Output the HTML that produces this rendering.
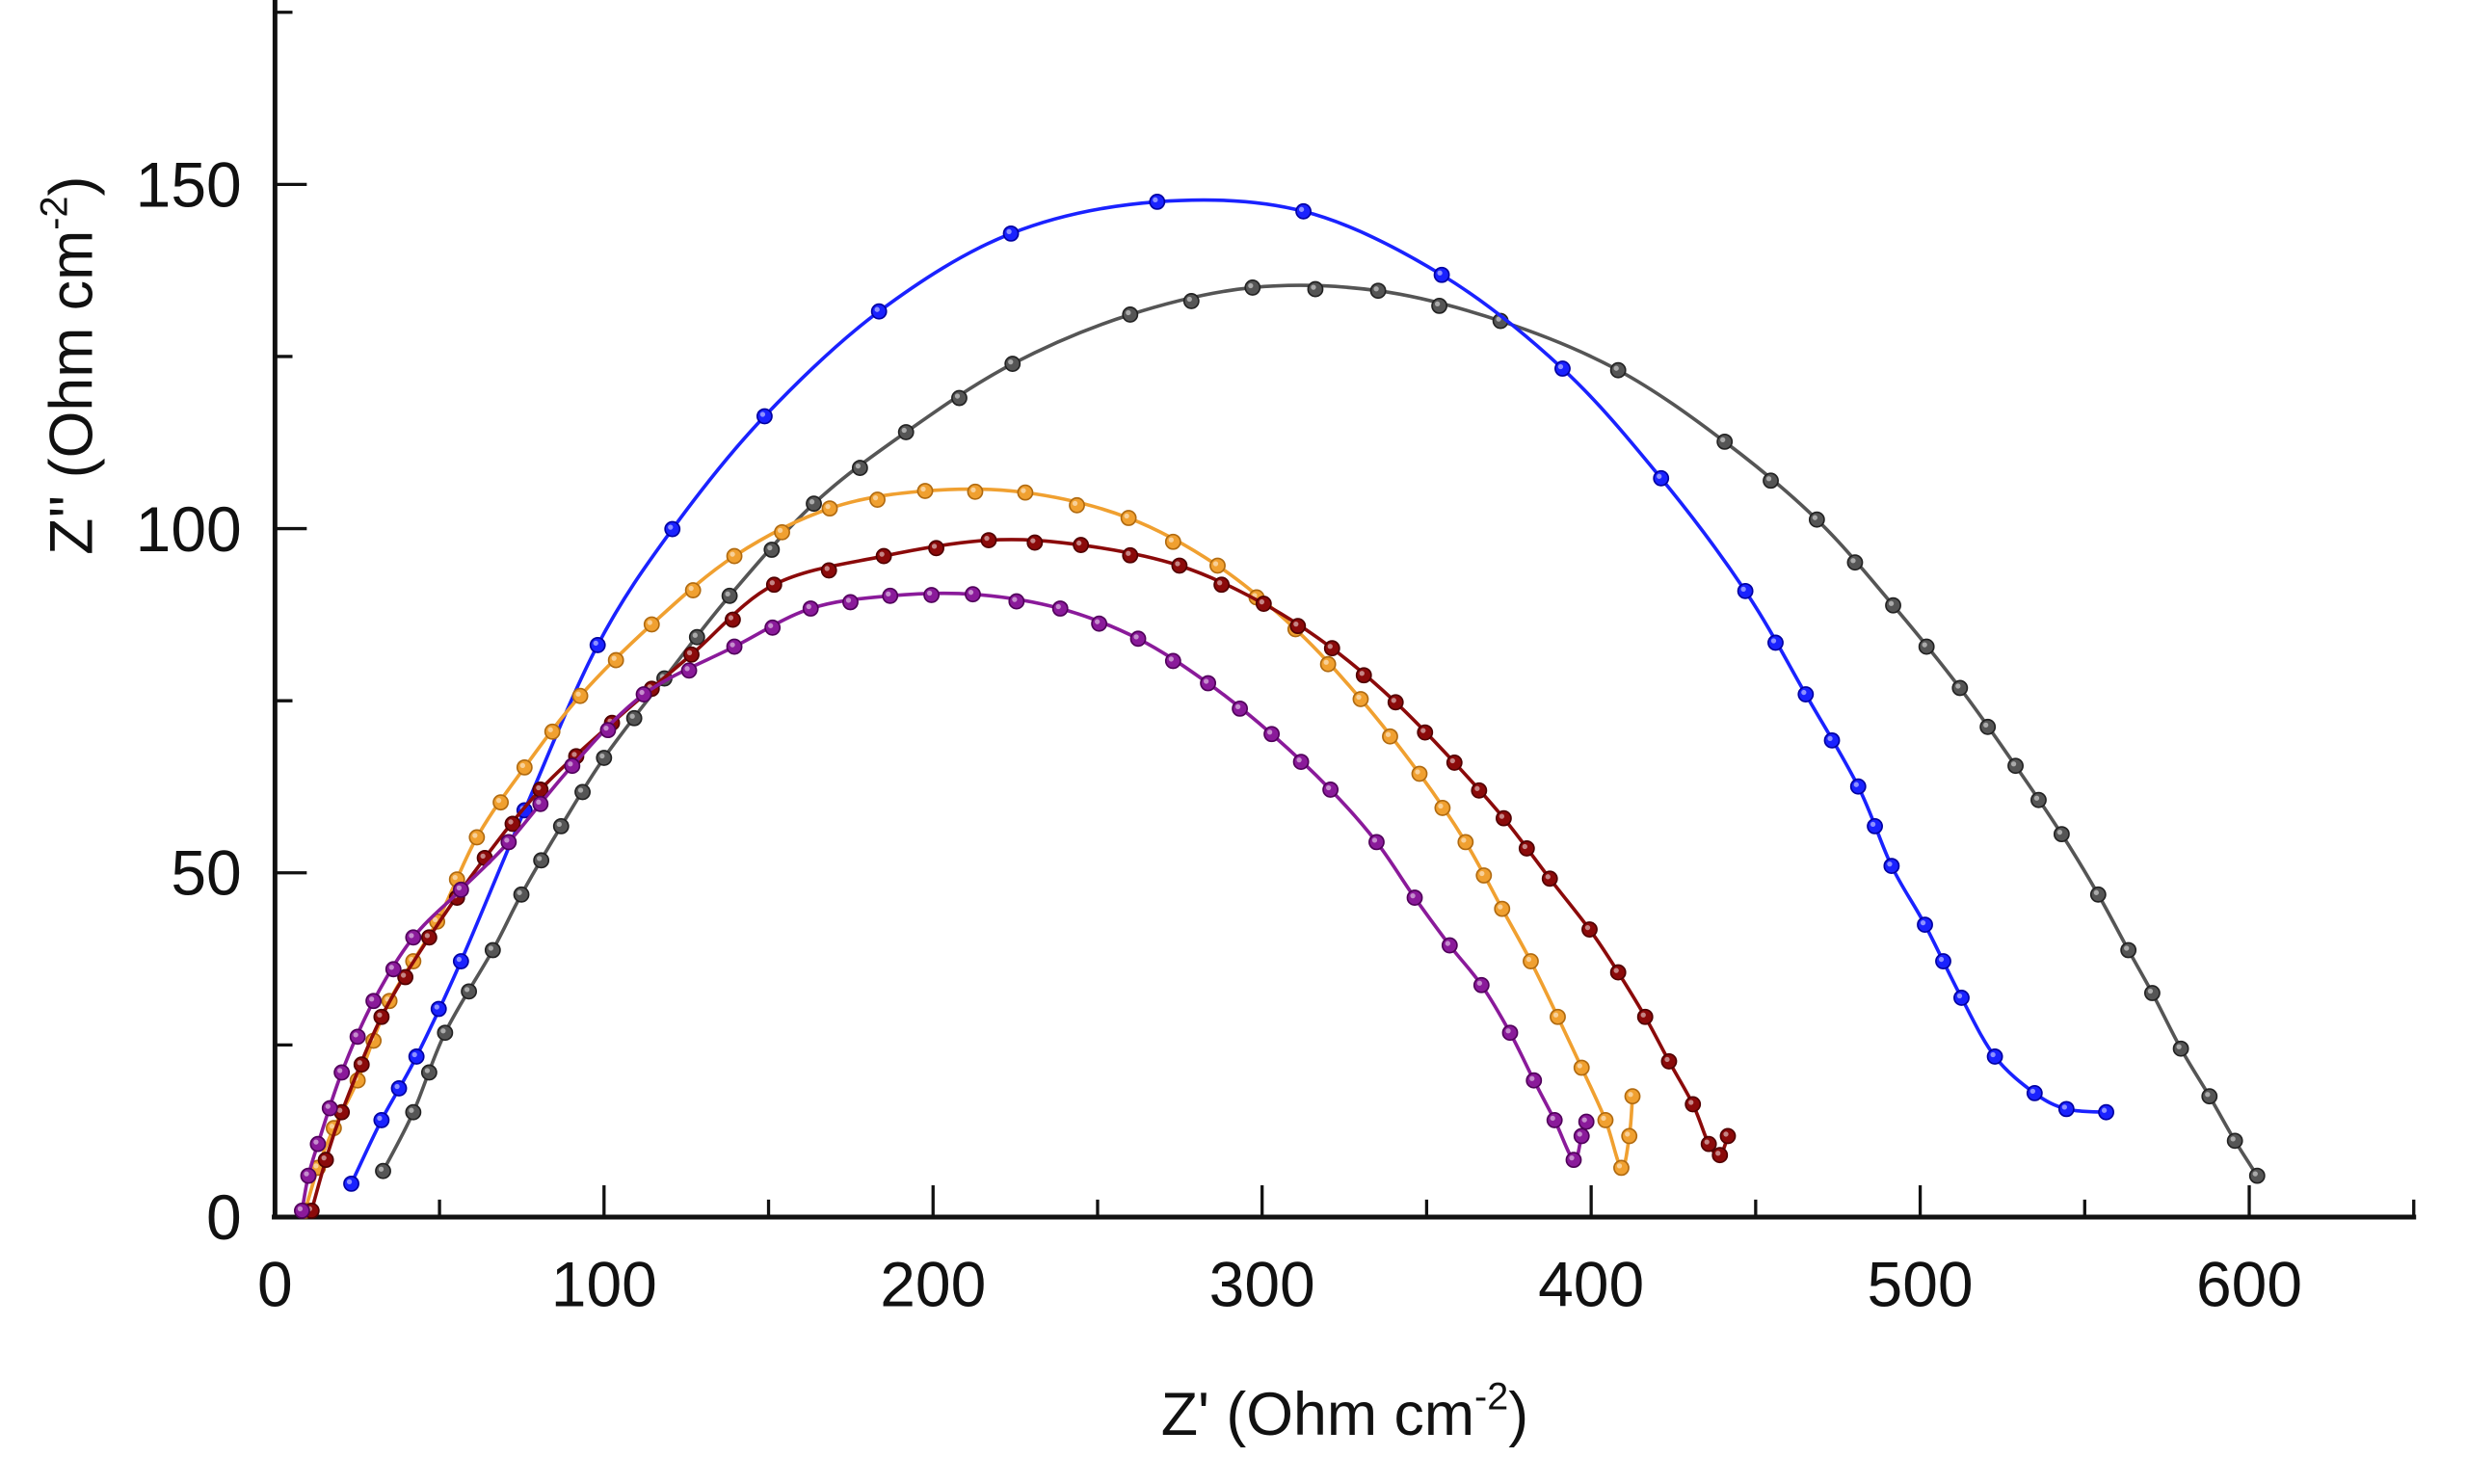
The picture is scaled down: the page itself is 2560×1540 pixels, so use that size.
<!DOCTYPE html>
<html><head><meta charset="utf-8"><style>
html,body{margin:0;padding:0;background:#fff;}
svg{display:block;}
text{font-family:"Liberation Sans",Arial,sans-serif;fill:#111;}
</style></head><body>
<svg id="s" width="2560" height="1540" viewBox="0 0 1552 934" preserveAspectRatio="none" xmlns="http://www.w3.org/2000/svg">
<g stroke="#111" stroke-width="3" fill="none">
<line x1="173" y1="0" x2="173" y2="767"/>
<line x1="171" y1="766" x2="1520" y2="766"/>
</g>
<g id="ticks" stroke="#111" stroke-width="2"></g>
<g font-size="40" text-anchor="end">
<text x="152" y="780">0</text>
<text x="152" y="563">50</text>
<text x="152" y="347">100</text>
<text x="152" y="130">150</text>
</g>
<g font-size="40" text-anchor="middle" id="xl"></g>
<text x="846" y="903" font-size="38" text-anchor="middle">Z' (Ohm cm<tspan font-size="24" dy="-16">-2</tspan><tspan dy="16">)</tspan></text>
<text transform="translate(58,230) rotate(-90)" font-size="38" text-anchor="middle">Z'' (Ohm cm<tspan font-size="24" dy="-16">-2</tspan><tspan dy="16">)</tspan></text>
<g id="data"></g>
</svg>
<script>
var NS="http://www.w3.org/2000/svg";
function el(n,a,p){var e=document.createElementNS(NS,n);for(var k in a)e.setAttribute(k,a[k]);p.appendChild(e);return e;}
var t=document.getElementById('ticks'),xl=document.getElementById('xl');
function X(v){return 173+v*2.07;}
function Y(v){return 766-v*4.333;}
for(var v=50;v<=650;v+=50){var maj=v%100==0;el('line',{x1:X(v),y1:766,x2:X(v),y2:766-(maj?20:11)},t);}
for(var v=25;v<=175;v+=25){var maj=v%50==0;el('line',{x1:173,y1:Y(v),x2:173+(maj?20:11),y2:Y(v)},t);}
for(var v=0;v<=600;v+=100){var e=el('text',{x:X(v),y:822},xl);e.textContent=v;}
// pixel coords (display space)
var series=[
 {c:"#555555",d:"#222",p:[[241,737],[260,700],[280,650],[310,598],[328,563],[353,520],[380,477],[418,427],[459,375],[512,317],[570,272],[637,229],[711,198],[788,181],[867,183],[944,202],[1018,233],[1085,278],[1143,327],[1191,381],[1233,433],[1268,482],[1297,525],[1320,563],[1339,598],[1354,625],[1372,660],[1390,690],[1406,718],[1420,740]]},
 {c:"#1a22ff",d:"#0000a0",p:[[221,745],[240,705],[262,665],[290,605],[330,510],[376,406],[423,333],[481,262],[553,196],[636,147],[728,127],[820,133],[907,173],[983,232],[1045,301],[1098,372],[1136,437],[1169,495],[1190,545],[1211,582],[1234,628],[1255,665],[1280,688],[1300,698],[1325,700]]},
 {c:"#f0a030",d:"#b06a10",p:[[192,762],[200,735],[210,710],[225,680],[245,630],[275,580],[300,527],[330,483],[365,438],[410,393],[462,350],[522,320],[582,309],[645,310],[710,326],[766,356],[815,396],[856,440],[893,487],[922,530],[945,572],[963,605],[980,640],[995,672],[1010,705],[1020,735],[1025,715],[1027,690]]},
 {c:"#8b0a0a",d:"#500000",p:[[196,762],[205,730],[215,700],[240,640],[270,590],[305,540],[340,497],[385,455],[435,412],[487,368],[556,350],[622,340],[680,343],[742,356],[795,380],[838,408],[878,442],[915,480],[946,515],[975,553],[1000,585],[1018,612],[1035,640],[1050,668],[1065,695],[1075,720],[1082,727],[1087,715]]},
 {c:"#8a1a9a",d:"#50005a",p:[[190,762],[194,740],[200,720],[215,675],[235,630],[260,590],[290,560],[320,530],[360,482],[405,437],[462,407],[510,383],[560,375],[612,374],[667,383],[716,402],[760,430],[800,462],[837,497],[866,530],[890,565],[912,595],[932,620],[950,650],[965,680],[978,705],[990,730],[995,715],[998,706]]}
];
function cr(p){var d='M'+p[0][0]+' '+p[0][1];for(var i=0;i<p.length-1;i++){var p0=p[i-1]||p[i],p1=p[i],p2=p[i+1],p3=p[i+2]||p2;
 var c1=[p1[0]+(p2[0]-p0[0])/6,p1[1]+(p2[1]-p0[1])/6],c2=[p2[0]-(p3[0]-p1[0])/6,p2[1]-(p3[1]-p1[1])/6];
 d+='C'+c1[0].toFixed(1)+' '+c1[1].toFixed(1)+' '+c2[0].toFixed(1)+' '+c2[1].toFixed(1)+' '+p2[0]+' '+p2[1];}return d;}
var g=document.getElementById('data');
series.forEach(function(s){
 el('path',{d:cr(s.p),fill:'none',stroke:s.c,'stroke-width':2.2},g);
 var pts=[];
 for(var i=0;i<s.p.length;i++){pts.push(s.p[i]);
  if(i<s.p.length-1){var a=s.p[i],b=s.p[i+1];var dd=Math.hypot(b[0]-a[0],b[1]-a[1]);if(dd>45&&dd<80)pts.push([(a[0]+b[0])/2,(a[1]+b[1])/2]);}}
 pts.forEach(function(p){el('circle',{cx:p[0],cy:p[1],r:4.6,fill:s.c,stroke:s.d,'stroke-width':1},g);
  el('circle',{cx:p[0]-1.2,cy:p[1]-1.2,r:1.6,fill:'#fff','fill-opacity':0.5},g);});
});
</script>
</body></html>
